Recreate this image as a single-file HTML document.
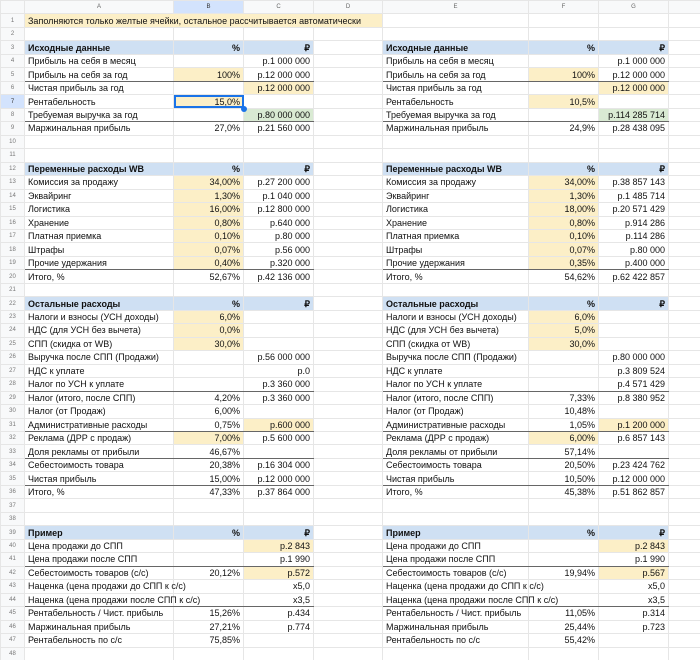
<!DOCTYPE html>
<html><head><meta charset="utf-8"><style>
html,body{margin:0;padding:0;background:#fff;width:700px;height:660px;overflow:hidden}
table{border-collapse:collapse;table-layout:fixed;width:700px;font-family:"Liberation Sans",Arial,sans-serif;font-size:9px;color:#111}
td{border:1px solid #e6e6e6;padding:0 3px;white-space:nowrap;height:12.48px;line-height:12px;overflow:visible}
tr{height:13.48px}
tr.h td{background:#f8f9fa;color:#666;font-size:6px;text-align:center;height:12px}
td.rh{background:#f8f9fa;color:#777;font-size:6px;text-align:center;padding:0}
.r{text-align:right}
.y{background:#fcefc7}
.g{background:#d9ead3}
.b{background:#cfe0f3;font-weight:bold}
tr.bb td.t{border-bottom:1.5px solid #666}
.sel{outline:2px solid #1a73e8;outline-offset:-2px;position:relative}
.sel:after{content:"";position:absolute;right:-4px;bottom:-4px;width:6px;height:6px;border-radius:50%;background:#1a73e8}
.hb{background:#d3e3fd !important;color:#333 !important}
</style></head><body>
<table>
<colgroup><col style="width:24px"><col style="width:149px"><col style="width:70px"><col style="width:70px"><col style="width:69px"><col style="width:146px"><col style="width:70px"><col style="width:70px"><col style="width:32px"></colgroup>
<tr class="h"><td></td><td>A</td><td class="hb">B</td><td>C</td><td>D</td><td>E</td><td>F</td><td>G</td><td></td></tr>
<tr><td class="rh">1</td><td colspan="4" class="y">Заполняются только желтые ячейки, остальное рассчитывается автоматически</td><td></td><td></td><td></td><td></td></tr>
<tr><td class="rh">2</td><td></td><td></td><td></td><td></td><td></td><td></td><td></td><td></td></tr>
<tr><td class="rh">3</td><td class="b">Исходные данные</td><td class="b r">%</td><td class="b r">₽</td><td></td><td class="b">Исходные данные</td><td class="b r">%</td><td class="b r">₽</td><td></td></tr>
<tr><td class="rh">4</td><td>Прибыль на себя в месяц</td><td></td><td class="r">р.1 000 000</td><td></td><td>Прибыль на себя в месяц</td><td></td><td class="r">р.1 000 000</td><td></td></tr>
<tr class="bb"><td class="rh">5</td><td class="t">Прибыль на себя за год</td><td class="t r y">100%</td><td class="t r">р.12 000 000</td><td></td><td class="t">Прибыль на себя за год</td><td class="t r y">100%</td><td class="t r">р.12 000 000</td><td></td></tr>
<tr><td class="rh">6</td><td>Чистая прибыль за год</td><td></td><td class="r y">р.12 000 000</td><td></td><td>Чистая прибыль за год</td><td></td><td class="r y">р.12 000 000</td><td></td></tr>
<tr><td class="rh hb">7</td><td>Рентабельность</td><td class="r y sel">15,0%</td><td></td><td></td><td>Рентабельность</td><td class="r y">10,5%</td><td></td><td></td></tr>
<tr class="bb"><td class="rh">8</td><td class="t">Требуемая выручка за год</td><td class="t"></td><td class="t r g">р.80 000 000</td><td></td><td class="t">Требуемая выручка за год</td><td class="t"></td><td class="t r g">р.114 285 714</td><td></td></tr>
<tr><td class="rh">9</td><td>Маржинальная прибыль</td><td class="r">27,0%</td><td class="r">р.21 560 000</td><td></td><td>Маржинальная прибыль</td><td class="r">24,9%</td><td class="r">р.28 438 095</td><td></td></tr>
<tr><td class="rh">10</td><td></td><td></td><td></td><td></td><td></td><td></td><td></td><td></td></tr>
<tr><td class="rh">11</td><td></td><td></td><td></td><td></td><td></td><td></td><td></td><td></td></tr>
<tr><td class="rh">12</td><td class="b">Переменные расходы WB</td><td class="b r">%</td><td class="b r">₽</td><td></td><td class="b">Переменные расходы WB</td><td class="b r">%</td><td class="b r">₽</td><td></td></tr>
<tr><td class="rh">13</td><td>Комиссия за продажу</td><td class="r y">34,00%</td><td class="r">р.27 200 000</td><td></td><td>Комиссия за продажу</td><td class="r y">34,00%</td><td class="r">р.38 857 143</td><td></td></tr>
<tr><td class="rh">14</td><td>Эквайринг</td><td class="r y">1,30%</td><td class="r">р.1 040 000</td><td></td><td>Эквайринг</td><td class="r y">1,30%</td><td class="r">р.1 485 714</td><td></td></tr>
<tr><td class="rh">15</td><td>Логистика</td><td class="r y">16,00%</td><td class="r">р.12 800 000</td><td></td><td>Логистика</td><td class="r y">18,00%</td><td class="r">р.20 571 429</td><td></td></tr>
<tr><td class="rh">16</td><td>Хранение</td><td class="r y">0,80%</td><td class="r">р.640 000</td><td></td><td>Хранение</td><td class="r y">0,80%</td><td class="r">р.914 286</td><td></td></tr>
<tr><td class="rh">17</td><td>Платная приемка</td><td class="r y">0,10%</td><td class="r">р.80 000</td><td></td><td>Платная приемка</td><td class="r y">0,10%</td><td class="r">р.114 286</td><td></td></tr>
<tr><td class="rh">18</td><td>Штрафы</td><td class="r y">0,07%</td><td class="r">р.56 000</td><td></td><td>Штрафы</td><td class="r y">0,07%</td><td class="r">р.80 000</td><td></td></tr>
<tr class="bb"><td class="rh">19</td><td class="t">Прочие удержания</td><td class="t r y">0,40%</td><td class="t r">р.320 000</td><td></td><td class="t">Прочие удержания</td><td class="t r y">0,35%</td><td class="t r">р.400 000</td><td></td></tr>
<tr><td class="rh">20</td><td>Итого, %</td><td class="r">52,67%</td><td class="r">р.42 136 000</td><td></td><td>Итого, %</td><td class="r">54,62%</td><td class="r">р.62 422 857</td><td></td></tr>
<tr><td class="rh">21</td><td></td><td></td><td></td><td></td><td></td><td></td><td></td><td></td></tr>
<tr><td class="rh">22</td><td class="b">Остальные расходы</td><td class="b r">%</td><td class="b r">₽</td><td></td><td class="b">Остальные расходы</td><td class="b r">%</td><td class="b r">₽</td><td></td></tr>
<tr><td class="rh">23</td><td>Налоги и взносы (УСН доходы)</td><td class="r y">6,0%</td><td></td><td></td><td>Налоги и взносы (УСН доходы)</td><td class="r y">6,0%</td><td></td><td></td></tr>
<tr><td class="rh">24</td><td>НДС (для УСН без вычета)</td><td class="r y">0,0%</td><td></td><td></td><td>НДС (для УСН без вычета)</td><td class="r y">5,0%</td><td></td><td></td></tr>
<tr><td class="rh">25</td><td>СПП (скидка от WB)</td><td class="r y">30,0%</td><td></td><td></td><td>СПП (скидка от WB)</td><td class="r y">30,0%</td><td></td><td></td></tr>
<tr><td class="rh">26</td><td>Выручка после СПП (Продажи)</td><td></td><td class="r">р.56 000 000</td><td></td><td>Выручка после СПП (Продажи)</td><td></td><td class="r">р.80 000 000</td><td></td></tr>
<tr><td class="rh">27</td><td>НДС к уплате</td><td></td><td class="r">р.0</td><td></td><td>НДС к уплате</td><td></td><td class="r">р.3 809 524</td><td></td></tr>
<tr class="bb"><td class="rh">28</td><td class="t">Налог по УСН к уплате</td><td class="t"></td><td class="t r">р.3 360 000</td><td></td><td class="t">Налог по УСН к уплате</td><td class="t"></td><td class="t r">р.4 571 429</td><td></td></tr>
<tr><td class="rh">29</td><td>Налог (итого, после СПП)</td><td class="r">4,20%</td><td class="r">р.3 360 000</td><td></td><td>Налог (итого, после СПП)</td><td class="r">7,33%</td><td class="r">р.8 380 952</td><td></td></tr>
<tr><td class="rh">30</td><td>Налог (от Продаж)</td><td class="r">6,00%</td><td></td><td></td><td>Налог (от Продаж)</td><td class="r">10,48%</td><td></td><td></td></tr>
<tr class="bb"><td class="rh">31</td><td class="t">Административные расходы</td><td class="t r">0,75%</td><td class="t r y">р.600 000</td><td></td><td class="t">Административные расходы</td><td class="t r">1,05%</td><td class="t r y">р.1 200 000</td><td></td></tr>
<tr><td class="rh">32</td><td>Реклама (ДРР с продаж)</td><td class="r y">7,00%</td><td class="r">р.5 600 000</td><td></td><td>Реклама (ДРР с продаж)</td><td class="r y">6,00%</td><td class="r">р.6 857 143</td><td></td></tr>
<tr class="bb"><td class="rh">33</td><td class="t">Доля рекламы от прибыли</td><td class="t r">46,67%</td><td class="t"></td><td></td><td class="t">Доля рекламы от прибыли</td><td class="t r">57,14%</td><td class="t"></td><td></td></tr>
<tr><td class="rh">34</td><td>Себестоимость товара</td><td class="r">20,38%</td><td class="r">р.16 304 000</td><td></td><td>Себестоимость товара</td><td class="r">20,50%</td><td class="r">р.23 424 762</td><td></td></tr>
<tr class="bb"><td class="rh">35</td><td class="t">Чистая прибыль</td><td class="t r">15,00%</td><td class="t r">р.12 000 000</td><td></td><td class="t">Чистая прибыль</td><td class="t r">10,50%</td><td class="t r">р.12 000 000</td><td></td></tr>
<tr><td class="rh">36</td><td>Итого, %</td><td class="r">47,33%</td><td class="r">р.37 864 000</td><td></td><td>Итого, %</td><td class="r">45,38%</td><td class="r">р.51 862 857</td><td></td></tr>
<tr><td class="rh">37</td><td></td><td></td><td></td><td></td><td></td><td></td><td></td><td></td></tr>
<tr><td class="rh">38</td><td></td><td></td><td></td><td></td><td></td><td></td><td></td><td></td></tr>
<tr><td class="rh">39</td><td class="b">Пример</td><td class="b r">%</td><td class="b r">₽</td><td></td><td class="b">Пример</td><td class="b r">%</td><td class="b r">₽</td><td></td></tr>
<tr><td class="rh">40</td><td>Цена продажи до СПП</td><td></td><td class="r y">р.2 843</td><td></td><td>Цена продажи до СПП</td><td></td><td class="r y">р.2 843</td><td></td></tr>
<tr class="bb"><td class="rh">41</td><td class="t">Цена продажи после СПП</td><td class="t"></td><td class="t r">р.1 990</td><td></td><td class="t">Цена продажи после СПП</td><td class="t"></td><td class="t r">р.1 990</td><td></td></tr>
<tr><td class="rh">42</td><td>Себестоимость товаров (с/с)</td><td class="r">20,12%</td><td class="r y">р.572</td><td></td><td>Себестоимость товаров (с/с)</td><td class="r">19,94%</td><td class="r y">р.567</td><td></td></tr>
<tr><td class="rh">43</td><td>Наценка (цена продажи до СПП к с/с)</td><td style="border-left-color:transparent"></td><td class="r">x5,0</td><td></td><td>Наценка (цена продажи до СПП к с/с)</td><td style="border-left-color:transparent"></td><td class="r">x5,0</td><td></td></tr>
<tr class="bb"><td class="rh">44</td><td class="t">Наценка (цена продажи после СПП к с/с)</td><td class="t" style="border-left-color:transparent"></td><td class="t r">x3,5</td><td></td><td class="t">Наценка (цена продажи после СПП к с/с)</td><td class="t" style="border-left-color:transparent"></td><td class="t r">x3,5</td><td></td></tr>
<tr><td class="rh">45</td><td>Рентабельность / Чист. прибыль</td><td class="r">15,26%</td><td class="r">р.434</td><td></td><td>Рентабельность / Чист. прибыль</td><td class="r">11,05%</td><td class="r">р.314</td><td></td></tr>
<tr><td class="rh">46</td><td>Маржинальная прибыль</td><td class="r">27,21%</td><td class="r">р.774</td><td></td><td>Маржинальная прибыль</td><td class="r">25,44%</td><td class="r">р.723</td><td></td></tr>
<tr><td class="rh">47</td><td>Рентабельность по с/с</td><td class="r">75,85%</td><td></td><td></td><td>Рентабельность по с/с</td><td class="r">55,42%</td><td></td><td></td></tr>
<tr><td class="rh">48</td><td></td><td></td><td></td><td></td><td></td><td></td><td></td><td></td></tr>
</table>
</body></html>
